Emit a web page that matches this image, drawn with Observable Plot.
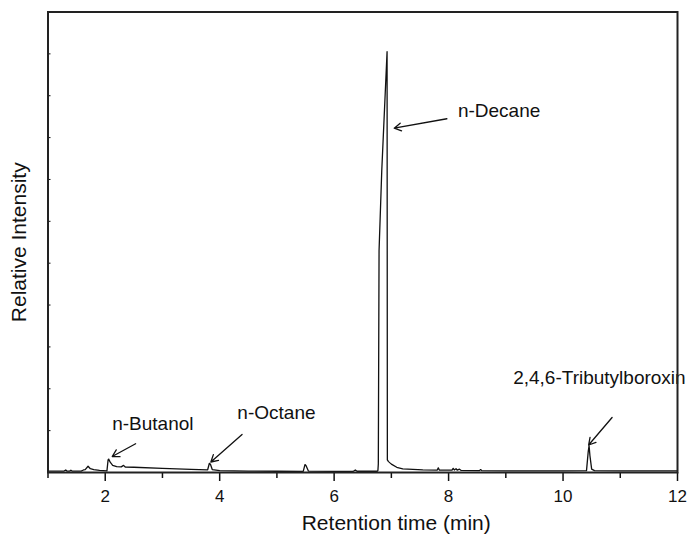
<!DOCTYPE html>
<html>
<head>
<meta charset="utf-8">
<script src="https://cdn.jsdelivr.net/npm/d3@7"></script>
<script src="https://cdn.jsdelivr.net/npm/@observablehq/plot@0.6"></script>
<style>
  html, body { margin: 0; padding: 0; background: white; }
  #chart { width: 689px; height: 543px; }
</style>
</head>
<body>
<div id="chart"></div>
<script>
// Chromatogram trace (retention time in min, relative intensity)
const time = [
  1.00, 1.28, 1.31, 1.33, 1.38, 1.40, 1.42, 1.58, 1.62, 1.65, 1.70, 1.74, 1.80, 1.90,
  2.03, 2.05, 2.06, 2.09, 2.13, 2.20, 2.28, 2.32, 2.35, 2.50, 3.00, 3.50,
  3.79, 3.82, 3.84, 3.87, 4.00, 4.50, 5.00,
  5.46, 5.49, 5.51, 5.55, 6.00, 6.33, 6.37, 6.40,
  6.755, 6.765, 6.772, 6.785, 6.832, 6.925, 6.93, 6.95, 7.00, 7.094, 7.20, 7.55,
  7.80, 7.82, 7.84, 8.06, 8.08, 8.10, 8.13, 8.15, 8.19, 8.22, 8.54, 8.56, 8.58,
  9.00, 10.00, 10.41, 10.44, 10.455, 10.47, 10.50, 10.55, 11.00, 12.00
];
const intensity = [
  0.035, 0.035, 0.06, 0.035, 0.035, 0.055, 0.035, 0.035, 0.06, 0.07, 0.15, 0.09, 0.07, 0.05,
  0.04, 0.30, 0.32, 0.24, 0.17, 0.14, 0.135, 0.17, 0.13, 0.125, 0.10, 0.075,
  0.065, 0.22, 0.19, 0.07, 0.045, 0.035, 0.03,
  0.028, 0.19, 0.16, 0.035, 0.025, 0.025, 0.06, 0.03,
  0.03, 0.05, 0.20, 5.3, 7.2, 10.05, 0.30, 0.26, 0.20, 0.125, 0.087, 0.062,
  0.055, 0.11, 0.055, 0.055, 0.10, 0.06, 0.09, 0.055, 0.08, 0.05, 0.045, 0.07, 0.045,
  0.04, 0.04, 0.045, 0.50, 0.64, 0.40, 0.08, 0.045, 0.04, 0.04
];

// Peak annotations
const labelNames = ["n-Butanol", "n-Octane", "n-Decane", "2,4,6-Tributylboroxin"];
const labelTime = [2.121, 4.309, 8.163, 9.128];
const labelIntensity = [1.17, 1.433, 8.648, 2.27];
const arrowFromTime = [2.531, 4.391, 7.970, 10.857];
const arrowFromIntensity = [0.686, 0.908, 8.45, 1.314];
const arrowToTime = [2.122, 3.846, 7.050, 10.447];
const arrowToIntensity = [0.382, 0.251, 8.225, 0.657];

// Axis ticks and titles
const xMajorTicks = [2, 4, 6, 8, 10, 12];
const xMinorTicks = [1, 3, 5, 7, 9, 11];
const yTicks = [1, 2, 3, 4, 5, 6, 7, 8, 9, 10];
const xTitle = "Retention time (min)";
const xTitleTime = 7.085;
const yTitle = "Relative Intensity";

const trace = time.map((t, i) => ({t, v: intensity[i]}));
const labels = labelNames.map((name, i) => ({name, t: labelTime[i], v: labelIntensity[i]}));
const arrows = labelNames.map((name, i) => ({
  x1: arrowFromTime[i], y1: arrowFromIntensity[i], x2: arrowToTime[i], y2: arrowToIntensity[i]
}));

const chart = Plot.plot({
  width: 689,
  height: 543,
  marginLeft: 47.5,
  marginRight: 12,
  marginTop: 11.5,
  marginBottom: 71,
  style: {fontFamily: "'Liberation Sans', Arial, sans-serif", fontSize: "17px", color: "#111", background: "white"},
  x: {domain: [1, 12]},
  y: {domain: [0, 11]},
  marks: [
    Plot.axisX({ticks: xMinorTicks, tickSize: 6, tickFormat: () => "", label: null, strokeWidth: 1.5}),
    Plot.axisX({ticks: xMajorTicks, tickSize: 9, tickPadding: 8, label: null, fontSize: 17, strokeWidth: 1.5}),
    Plot.axisY({ticks: yTicks, tickSize: -3, tickFormat: () => "", label: null, strokeWidth: 1}),
    Plot.line(trace, {x: "t", y: "v", stroke: "#111", strokeWidth: 1.3}),
    Plot.arrow(arrows, {x1: "x1", y1: "y1", x2: "x2", y2: "y2", stroke: "#111", strokeWidth: 1.3, headLength: 9}),
    Plot.text(labels, {x: "t", y: "v", text: "name", textAnchor: "start", lineAnchor: "middle", fontSize: 19, fill: "#111"}),
    Plot.text([xTitle], {x: [xTitleTime], frameAnchor: "bottom", dy: 51, lineAnchor: "middle", textAnchor: "middle", text: d => d, fontSize: 21, fill: "#111"}),
    Plot.text([yTitle], {frameAnchor: "left", rotate: -90, dx: -29, textAnchor: "middle", lineAnchor: "middle", text: d => d, fontSize: 21, fill: "#111"}),
    Plot.frame({stroke: "#222", strokeWidth: 2})
  ]
});
document.getElementById("chart").appendChild(chart);
</script>
</body>
</html>
